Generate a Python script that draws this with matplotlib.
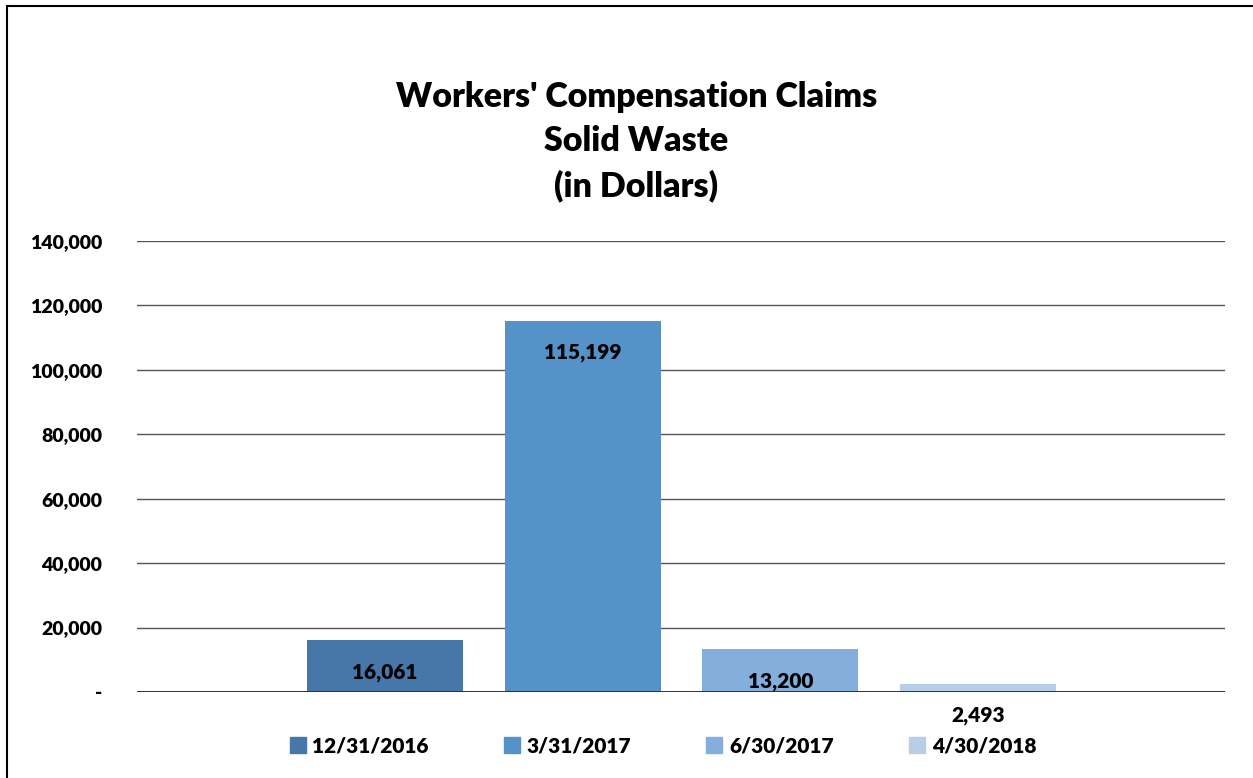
import numpy as np
import matplotlib.pyplot as plt
from matplotlib.lines import Line2D

# dados
series = ['12/31/2016', '3/31/2017', '6/30/2017', '4/30/2018']
values = [16061, 115199, 13200, 2493]
colors = ['#4677A8', '#5592C8', '#84AEDC', '#B7CDE8']
yticks = [0, 20000, 40000, 60000, 80000, 100000, 120000, 140000]

plt.rcParams['font.family'] = ['Lato', 'DejaVu Sans']
W = 'heavy'

fig = plt.figure(figsize=(12.53, 7.78), dpi=100)
ax = fig.add_axes([137/1253, 1 - 692/778, (1225 - 137)/1253, (692 - 241)/778])

x = np.arange(len(series))
bars = ax.bar(x, values, width=0.79, color=colors, zorder=3)

for xi, v in zip(x, values):
    ax.annotate(f'{v:,}', xy=(xi, v), xytext=(0, -23), textcoords='offset points',
                ha='center', va='center', fontsize=15, fontweight=W, zorder=4)

ax.set_xlim(-1.255, 4.25)
ax.set_ylim(0, 140000)
ax.set_yticks(yticks)
ax.set_yticklabels(['-' if t == 0 else f'{t:,}' for t in yticks], fontsize=14, fontweight=W)
ax.set_xticks([])
ax.tick_params(axis='y', length=0, pad=25)
for t in yticks[1:]:
    ax.axhline(t, color='#555555', lw=1.0, zorder=1)
ax.axhline(0, color='#333333', lw=1.4, zorder=5)
for s in ax.spines.values():
    s.set_visible(False)

titulo = ["Workers' Compensation Claims", 'Solid Waste', '(in Dollars)']
for ypix, linha in zip([97, 141, 186], titulo):
    fig.text(0.508, 1 - ypix/778, linha, ha='center', va='center', fontsize=24.5, fontweight=W)

handles = [Line2D([], [], marker='s', ls='', color=c, markersize=11) for c in colors]
fig.legend(handles, series, loc='center', bbox_to_anchor=(0.528, 1 - 746/778), ncol=4,
           frameon=False, prop={'size': 15, 'weight': W}, handletextpad=0.2,
           columnspacing=3.5, handlelength=1.0)

# borda
fig.add_artist(Line2D([7/1253, 7/1253], [0, 1 - 6/778], color='black', lw=1.5, transform=fig.transFigure))
fig.add_artist(Line2D([7/1253, 1], [1 - 6/778, 1 - 6/778], color='black', lw=1.5, transform=fig.transFigure))

fig.savefig('out.png', dpi=100)
